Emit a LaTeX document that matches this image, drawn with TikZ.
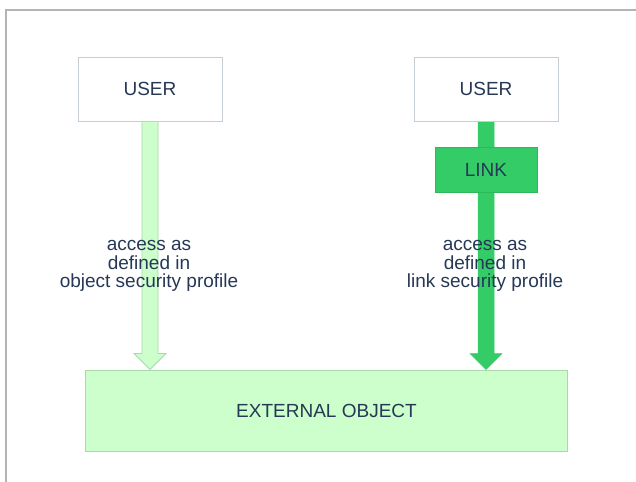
\documentclass[tikz,border=0pt]{standalone}
\usepackage{fontspec}
\setmainfont{Liberation Sans}
\usetikzlibrary{calc}
\definecolor{txt}{HTML}{263855}
\definecolor{lgreen}{HTML}{CCFFCC}
\definecolor{lborder}{HTML}{A9D9A9}
\definecolor{dgreen}{HTML}{33CC66}
\definecolor{dborder}{HTML}{2DB85A}
\definecolor{boxborder}{HTML}{C5CDD6}
\definecolor{framecol}{HTML}{B4B4B4}
\pgfdeclarelayer{bg}
\pgfdeclarelayer{arrows}
\pgfsetlayers{bg,arrows,main}
\tikzset{
  userbox/.style={draw=boxborder, fill=white, line width=0.8bp, minimum width=144bp, minimum height=64bp, inner sep=0pt},
  linkbox/.style={draw=dborder, fill=dgreen, line width=0.8bp, minimum width=102bp, minimum height=45bp, inner sep=0pt},
  extbox/.style={draw=lborder, fill=lgreen, line width=1bp, minimum width=481bp, minimum height=81bp, inner sep=0pt},
  lightarrow/.style={fill=lgreen, draw=lborder, line width=0.8bp, line join=miter},
  darkarrow/.style={fill=dgreen, draw=dgreen, line width=0.5bp, line join=miter},
  lbl/.style={align=center, inner sep=0pt, font=\fontsize{19bp}{18.5bp}\selectfont}
}
\begin{document}
\begin{tikzpicture}[x=1bp, y=-1bp, font=\fontsize{19bp}{22bp}\selectfont, text=txt]
\useasboundingbox (0,0) rectangle (636,482);
\begin{pgfonlayer}{bg}
\fill[white] (0,0) rectangle (636,482);
\draw[framecol, line width=1.5bp] (6,482) -- (6,10) -- (636,10);
\end{pgfonlayer}

\node[userbox] (u1) at (150,89) {USER};
\node[userbox] (u2) at (486,89) {USER};
\node[extbox] (ext) at (326.5,410.5) {EXTERNAL OBJECT};
\node[linkbox] (link) at (486,169.5) {LINK};

\coordinate (t1) at (ext.north -| u1.south);
\coordinate (t2) at (ext.north -| u2.south);
\begin{pgfonlayer}{arrows}
\filldraw[lightarrow] ($(u1.south)+(-8,0)$) -- ($(t1)+(-8,-16)$) -- ($(t1)+(-16,-16)$) -- (t1) -- ($(t1)+(16,-16)$) -- ($(t1)+(8,-16)$) -- ($(u1.south)+(8,0)$) -- cycle;
\filldraw[darkarrow] ($(u2.south)+(-8,0)$) -- ($(t2)+(-8,-16)$) -- ($(t2)+(-16,-16)$) -- (t2) -- ($(t2)+(16,-16)$) -- ($(t2)+(8,-16)$) -- ($(u2.south)+(8,0)$) -- cycle;
\end{pgfonlayer}

\node[lbl] (l1) at (149,266) {access as\\defined in\\object security profile};
\node[lbl] (l2) at (485,266) {access as\\defined in\\link security profile};
\end{tikzpicture}
\end{document}
